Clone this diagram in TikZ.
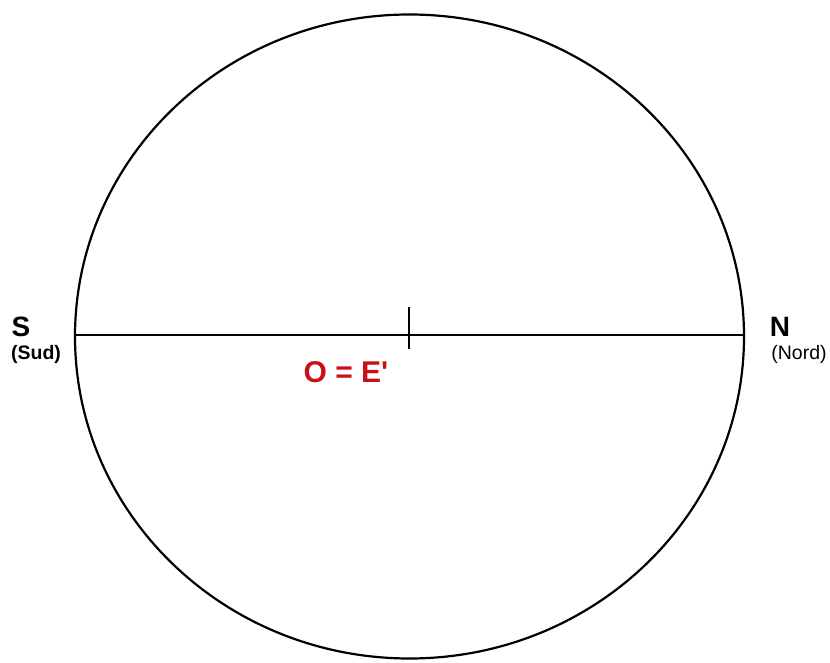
\documentclass[tikz,border=0pt]{standalone}
\usepackage{fontspec}
\setmainfont{Liberation Sans}
\usetikzlibrary{shapes.geometric}
\definecolor{labred}{RGB}{200,16,22}
\begin{document}
\begin{tikzpicture}[x=1pt,y=1pt,
  thickline/.style={line width=2.2pt,black},
  biglabel/.style={font=\fontsize{28}{30}\selectfont\bfseries,inner sep=0pt},
  smalllabel/.style={font=\fontsize{19.5}{21}\selectfont,inner sep=0pt}]
\useasboundingbox (0,0) rectangle (830,662);
\node[ellipse,draw,thickline,minimum width=669pt,minimum height=644pt,inner sep=0pt,outer sep=0pt] (E) at (409.5,325.5) {};
\coordinate (L) at (75,327);
\coordinate (R) at (744,327);
\coordinate (C) at (409,327);
\coordinate (Ctop) at (409,355);
\coordinate (Cbot) at (409,313);
\draw[thickline] (L) -- (R);
\draw[line width=2pt] (Ctop) -- (Cbot);
\node[biglabel] (S) at (21,335) {S};
\node[smalllabel,font=\fontsize{19.5}{21}\selectfont\bfseries] (Sud) at (36,308) {(Sud)};
\node[biglabel] (N) at (780,335) {N};
\node[smalllabel] (Nord) at (799,308) {(Nord)};
\node[biglabel,text=labred,font=\fontsize{30}{32}\selectfont\bfseries] (O) at (346,290) {O = E\textquotesingle};
\end{tikzpicture}
\end{document}
